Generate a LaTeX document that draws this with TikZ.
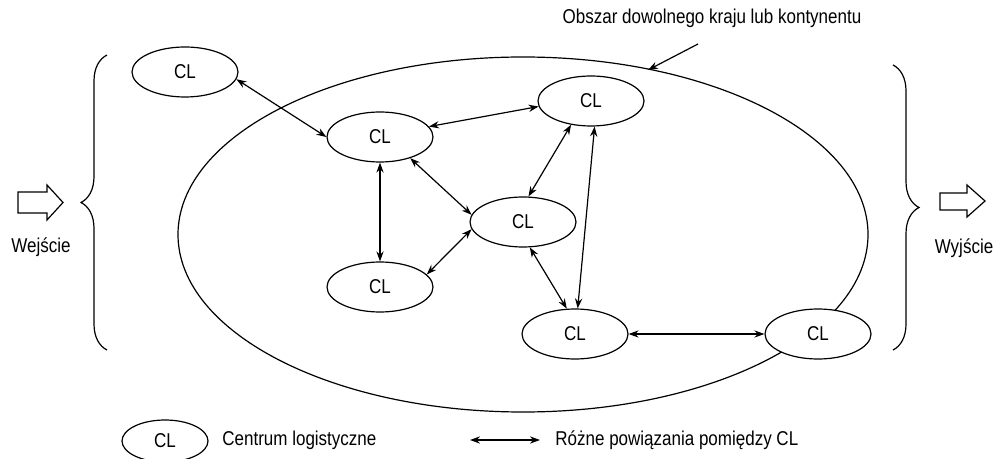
\documentclass[tikz,border=0pt]{standalone}
\usepackage{fontspec}
\setmainfont{Liberation Sans}[FakeStretch=0.85]
\usetikzlibrary{positioning, arrows.meta, shapes.geometric, decorations.pathreplacing}

\begin{document}
\begin{tikzpicture}[x=0.5pt, y=-0.5pt,
        font=\fontsize{10}{12}\selectfont,
        % Style definitions
        centre/.style={
            ellipse,
            draw=black,
            fill=white,
            line width=0.6pt,
            minimum width=53pt,
            minimum height=25pt,
            inner sep=0pt
        },
        link/.style={
            {Stealth[length=5pt,width=3.6pt]}-{Stealth[length=5pt,width=3.6pt]},
            line width=0.6pt
        },
        pointer/.style={
            -{Stealth[length=5pt,width=3.6pt]},
            line width=0.6pt
        },
        bracket/.style={
            decorate,
            decoration={brace, amplitude=13pt},
            line width=0.6pt
        },
        hollow/.style={
            draw=black,
            line width=0.6pt,
            fill=white
        }
    ]
        \useasboundingbox (0,0) rectangle (999,459);

        % ==========================================
        % Region of the country / continent
        % ==========================================
        \node (region) [ellipse, draw=black, line width=0.6pt,
            minimum width=345pt, minimum height=177.5pt] at (523,234.5) {};
        \node (arealabel) at (712,18) {Obszar dowolnego kraju lub kontynentu};
        \coordinate (areatail) at (698,44);
        \draw [pointer] (areatail) -- (648,70);

        % ==========================================
        % Logistic centres
        % ==========================================
        \node (clA) [centre] at (185,72)  {CL};
        \node (clB) [centre] at (380,137) {CL};
        \node (clC) [centre] at (591,101) {CL};
        \node (clD) [centre] at (523,222) {CL};
        \node (clE) [centre] at (380,287) {CL};
        \node (clF) [centre] at (575,334) {CL};
        \node (clG) [centre] at (818,334) {CL};

        % ==========================================
        % Connections between centres
        % ==========================================
        \draw [link] (clA.-8)   -- (clB.west);
        \draw [link] (clB.12)   -- (clC.186);
        \draw [link] (clB.south) -- (clE.north);
        \draw [link] (clB.-35)  -- (clD.172);
        \draw [link] (clE.15)   -- (clD.188);
        \draw [link] (clC.-130) -- (clD.78);
        \draw [link] (clC.-82)  -- (clF.84);
        \draw [link] (clD.-75)  -- (clF.108);
        \draw [link] (clF.east) -- (clG.west);

        % ==========================================
        % Input / output
        % ==========================================
        \draw [bracket] (107,350) -- (107,55);
        \draw [bracket] (893,65) -- (893,350);

        \draw [hollow] (18,192) -- (47,192) -- (47,185) -- (63,202.5)
            -- (47,220) -- (47,213) -- (18,213) -- cycle;
        \node (inlabel) at (41,247) {Wejście};

        \draw [hollow] (940,193) -- (967,193) -- (967,185) -- (985,201)
            -- (967,217) -- (967,210) -- (940,210) -- cycle;
        \node (outlabel) at (964,248) {Wyjście};

        % ==========================================
        % Legend
        % ==========================================
        \node (legcl) [centre, minimum width=43pt, minimum height=21pt] at (165,441) {CL};
        \node (legcltext) [anchor=west, inner sep=0pt] at (222,440) {Centrum logistyczne};
        \coordinate (legfrom) at (470,440);
        \coordinate (legto) at (540,440);
        \draw [link] (legfrom) -- (legto);
        \node (leglinktext) [anchor=west, inner sep=0pt] at (555,440) {Różne powiązania pomiędzy CL};

    \end{tikzpicture}
\end{document}
